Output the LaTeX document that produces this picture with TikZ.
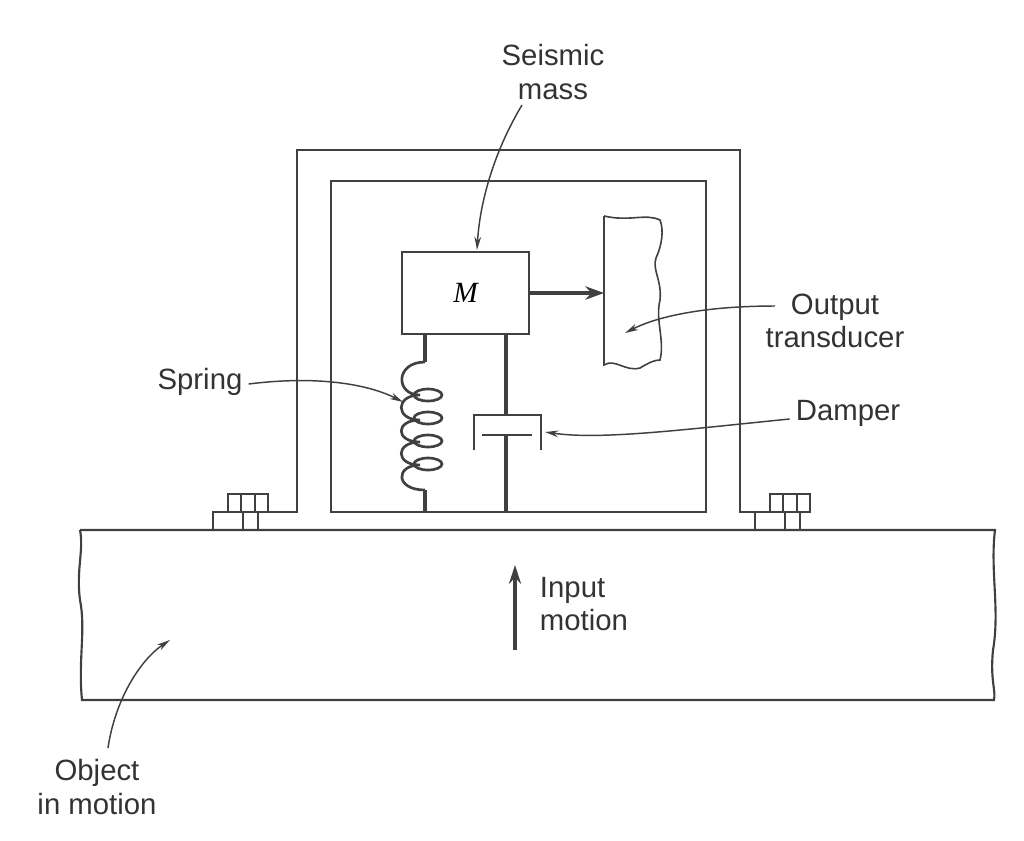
\documentclass[tikz,border=0pt]{standalone}
\usepackage{fontspec}
\setmainfont{Liberation Sans}
\usetikzlibrary{arrows.meta}
\begin{document}
\begin{tikzpicture}[x=0.75pt,y=-0.75pt,
  ln/.style={draw=black!75,line width=1.6pt},
  thk/.style={draw=black!75,line width=3pt},
  lab/.style={font=\fontsize{22}{25}\selectfont,text=black!80,align=center,inner sep=0pt},
  ptr/.style={draw=black!75,line width=1.1pt,-{Stealth[length=10pt,width=5pt]}}]
\useasboundingbox (0,0) rectangle (1024,840);
% base slab
\draw[ln] (80,530) -- (995,530)
  .. controls (990,570) and (1000,610) .. (993,650) .. controls (990,680) and (996,690) .. (994,700)
  -- (82,700) .. controls (78,660) and (86,630) .. (80,600) .. controls (76,570) and (84,550) .. (80,530);
% outer frame with flanges
\draw[ln] (268,512) -- (297,512) -- (297,150) -- (740,150) -- (740,512) -- (770,512);
% inner box
\draw[ln] (331,181) rectangle (706,512);
% bolts
\foreach \s/\x in {1/228,2/770}{
  \draw[ln,line width=1.2pt] (\x,512) rectangle ++(40,-18);
  \draw[ln,line width=1.2pt] (\x+13,494) -- ++(0,18) (\x+27,494) -- ++(0,18);
  \draw[ln,line width=1.2pt] (\x-15,530) -- ++(0,-18) -- ++(45,0) -- ++(0,18);
  \draw[ln,line width=1.2pt] (\x+15,512) -- ++(0,18);
}
% mass
\node[ln,minimum width=127*0.75pt,minimum height=82*0.75pt,inner sep=0pt] (M) at (465.5,293) {\fontsize{22}{25}\selectfont\itshape\fontspec{Liberation Serif}M};
% transducer
\draw[ln,line width=1.2pt] (604,216) -- (604,365) .. controls (615,358) and (625,372) .. (640,368) .. controls (650,362) and (655,360) .. (660,360)
  .. controls (665,340) and (655,320) .. (660,300) .. controls (662,280) and (652,270) .. (656,258)
  .. controls (662,245) and (664,230) .. (660,220) .. controls (645,213) and (630,222) .. (604,216);
\coordinate (T) at (604,293);
\draw[thk,-{Stealth[length=14pt,width=10pt]}] (M.east) -- (T);
% spring
\draw[thk] (425,334) -- (425,362);
\draw[ln,line width=2pt] (425,362) .. controls (395,362) and (395,395) .. (420,395)
  .. controls (395,395) and (395,420) .. (420,420)
  .. controls (395,420) and (395,442) .. (420,442)
  .. controls (395,442) and (395,465) .. (420,465)
  .. controls (395,465) and (395,490) .. (425,490);
\foreach \y in {395,418,441,464}
  \draw[ln,line width=2pt] (428,\y) ellipse (14 and 6);
\draw[thk] (425,490) -- (425,512);
% damper
\draw[thk] (506,334) -- (506,415);
\draw[ln,line width=2pt] (474,450) -- (474,415) -- (541,415) -- (541,450);
\draw[ln,line width=2pt] (482,435) -- (532,435);
\draw[thk] (506,435) -- (506,512);
% labels
\node[lab] (sm) at (553,72) {Seismic\\mass};
\draw[ptr] (522,105) .. controls (495,150) and (480,200) .. (477,250);
\node[lab] (ot) at (835,321) {Output\\transducer};
\draw[ptr] (775,306) .. controls (710,306) and (660,315) .. (625,333);
\node[lab] (sp) at (200,382) {Spring};
\draw[ptr] (sp.east) ++(6,2) .. controls (320,375) and (370,385) .. (403,402);
\node[lab] (dp) at (848,413) {Damper};
\draw[ptr] (dp.west) ++(-6,6) .. controls (680,430) and (600,440) .. (545,432);
\node[lab,align=left] (im) at (584,604) {Input\\motion};
\coordinate (i1) at (515,650); \coordinate (i2) at (515,565);
\draw[thk,-{Stealth[length=14pt,width=9pt]}] (i1) -- (i2);
\node[lab] (ob) at (97,787) {Object\\in motion};
\draw[ptr] (108,748) .. controls (115,700) and (140,660) .. (170,640);
\end{tikzpicture}
\end{document}
